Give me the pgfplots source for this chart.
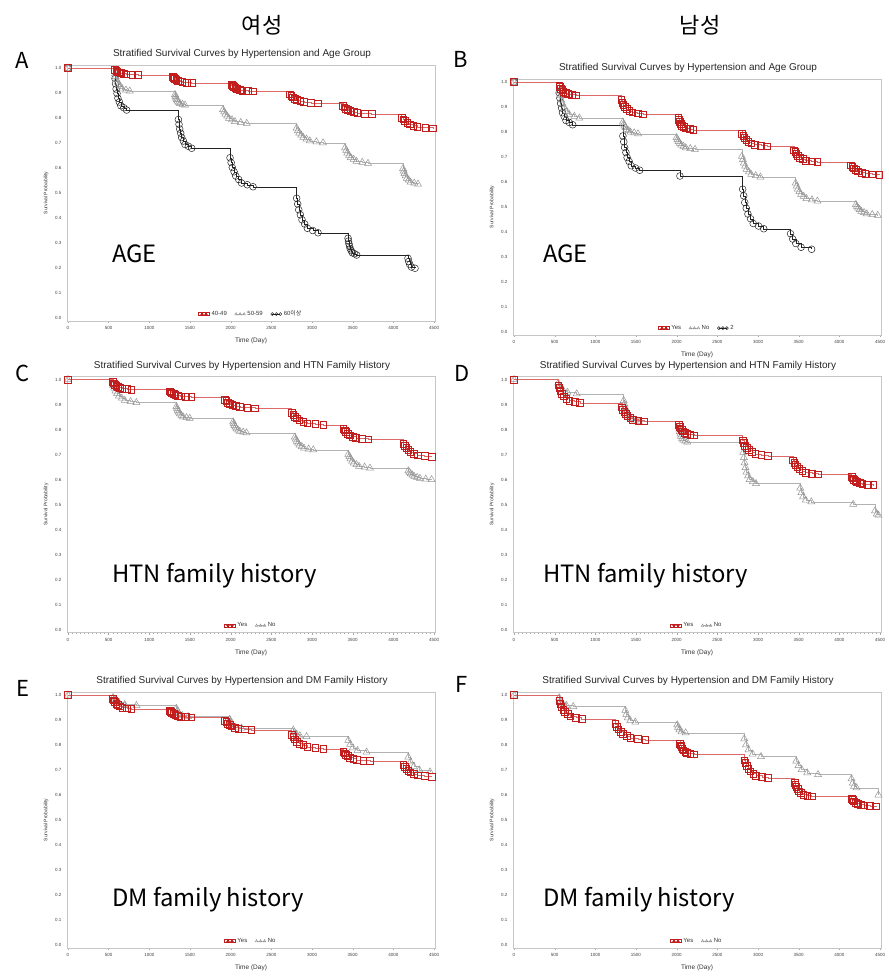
\documentclass[border=0pt]{standalone}
\usepackage{fontspec}
\setmainfont{Liberation Sans}
\newfontfamily\kr{Noto Sans CJK KR}
\usepackage{pgfplots}
\pgfplotsset{compat=1.18}

\definecolor{kmred}{RGB}{195,30,30}
\definecolor{kmredline}{RGB}{220,105,105}
\definecolor{kmgray}{RGB}{150,150,150}
\definecolor{kmgrayline}{RGB}{178,178,178}
\definecolor{kmblack}{RGB}{35,35,35}

\pgfplotsset{
  kmaxis/.style={
    scale only axis, width=368pt, height=256pt,
    xmin=-12, xmax=4512, ymin=-0.012, ymax=1.012,
    clip mode=individual,
    xtick={0,500,1000,1500,2000,2500,3000,3500,4000,4500},
    ytick={0,0.1,0.2,0.3,0.4,0.5,0.6,0.7,0.8,0.9,1},
    minor x tick num=9,
    xtick pos=bottom, ytick pos=left, tick align=outside,
    major tick length=2pt, minor tick length=1.2pt,
    xtick style={draw=gray!70, line width=0.3pt},
    ytick style={draw=none},
    axis line style={draw=gray!45, line width=0.4pt},
    scaled ticks=false,
    /pgf/number format/assume math mode=true,
    /pgf/number format/1000 sep={},
    xticklabel style={font=\fontsize{4.5}{5}\selectfont, text=black!75},
    yticklabel style={font=\fontsize{4.5}{5}\selectfont, text=black!75,
      /pgf/number format/fixed, /pgf/number format/fixed zerofill,
      /pgf/number format/precision=1},
    title style={font=\fontsize{10}{12}\selectfont, at={(0.5,1)}, anchor=south,
      yshift=0pt, xshift=-9pt, inner sep=0pt, text=black!85},
    xlabel={Time (Day)},
    xlabel style={font=\fontsize{6.5}{7}\selectfont, at={(0.5,-0.078)}, anchor=center, text=black!80},
    ylabel={Survival Probability},
    ylabel style={font=\fontsize{5}{6}\selectfont, at={(-0.057,0.5)}, anchor=center, text=black!80},
    legend style={at={(0.5,0.027)}, anchor=center, draw=none, fill=none, inner sep=0pt,
      font=\fontsize{6}{7}\selectfont, text=black!80,
      /tikz/every even column/.append style={column sep=6pt}},
    legend columns=-1, reverse legend,
    legend image code/.code={\draw[mark repeat=1, mark size=1.5pt]
      plot coordinates {(0pt,0pt) (4pt,0pt) (8pt,0pt)};},
  },
  kmred/.style={const plot, color=kmredline, line width=0.45pt, mark=square, mark size=3.3pt,
    mark options={draw=kmred, fill=none, line width=0.6pt}},
  kmgray/.style={const plot, color=kmgrayline, line width=0.45pt, mark=triangle, mark size=4pt,
    mark options={draw=kmgray, fill=none, line width=0.5pt}},
  kmblack/.style={const plot, color=kmblack, line width=0.45pt, mark=o, mark size=3.4pt,
    mark options={draw=kmblack, fill=none, line width=0.5pt}},
}

\begin{document}
\begin{tikzpicture}
\useasboundingbox (0pt,0pt) rectangle (889pt,-978pt);

% ---------------- A : women, age
\begin{axis}[kmaxis, at={(67pt,-321pt)}, anchor=south west,
  title={Stratified Survival Curves by Hypertension and Age Group}]
\addplot[kmblack] coordinates {(0,1)
 (578,.958) (585,.937) (592,.916) (603,.898) (614,.879) (632,.864) (650,.849) (686,.841) (721,.832)
 (1357,.794) (1365,.775) (1373,.756) (1386,.739) (1398,.722) (1419,.708) (1439,.694) (1480,.687) (1521,.679)
 (1992,.641) (2006,.622) (2020,.602) (2042,.585) (2063,.568) (2099,.554) (2134,.540) (2205,.533) (2275,.525)
 (2811,.479) (2824,.456) (2837,.433) (2857,.413) (2877,.393) (2910,.376) (2943,.359) (3009,.350) (3074,.341)
 (3443,.319) (3449,.308) (3454,.297) (3462,.287) (3470,.277) (3483,.269) (3496,.261) (3523,.257) (3549,.252)
 (4180,.239) (4189,.226) (4202,.214) (4223,.204) (4266,.199)};
\addlegendentry{60{\kr 이상}}
\addplot[kmgray] coordinates {(0,1)
 (578,.977) (587,.966) (596,.954) (610,.944) (624,.934) (646,.926) (669,.917) (714,.912) (760,.908)
 (1316,.894) (1322,.887) (1328,.880) (1338,.874) (1347,.868) (1362,.863) (1378,.858) (1408,.855) (1439,.852)
 (1906,.834) (1920,.825) (1935,.816) (1957,.808) (1979,.799) (2016,.793) (2052,.786) (2124,.782) (2197,.779)
 (2811,.760) (2827,.750) (2843,.740) (2868,.732) (2892,.723) (2932,.716) (2973,.709) (3054,.705) (3135,.701)
 (3406,.681) (3420,.671) (3434,.660) (3456,.651) (3477,.642) (3512,.635) (3547,.627) (3618,.623) (3688,.619)
 (4119,.598) (4128,.588) (4137,.578) (4151,.569) (4165,.559) (4188,.552) (4211,.544) (4257,.540) (4303,.536)};
\addlegendentry{50-59}
\addplot[kmred] coordinates {(0,1)
 (578,.993) (592,.990) (606,.986) (627,.983) (648,.980) (684,.978) (719,.975) (790,.974) (860,.972)
 (1291,.964) (1302,.960) (1314,.957) (1332,.953) (1349,.950) (1378,.947) (1406,.944) (1464,.942) (1521,.941)
 (2012,.933) (2025,.928) (2038,.924) (2058,.920) (2078,.917) (2111,.913) (2144,.910) (2210,.908) (2275,.907)
 (2729,.895) (2746,.889) (2764,.883) (2790,.877) (2815,.872) (2858,.868) (2902,.864) (2988,.861) (3074,.859)
 (3381,.848) (3398,.843) (3416,.838) (3442,.833) (3469,.828) (3514,.824) (3558,.820) (3646,.818) (3734,.816)
 (4102,.802) (4122,.795) (4141,.788) (4170,.781) (4199,.775) (4247,.770) (4295,.765) (4392,.762) (4488,.759)};
\addlegendentry{40-49}
\end{axis}

% ---------------- B : men, age
\begin{axis}[kmaxis, at={(513pt,-335pt)}, anchor=south west,
  title={Stratified Survival Curves by Hypertension and Age Group}]
\addplot[kmblack] coordinates {(0,1)
 (556,.957) (564,.936) (573,.915) (585,.896) (597,.877) (618,.862) (639,.846) (680,.838) (721,.829)
 (1339,.784) (1350,.761) (1360,.738) (1376,.718) (1391,.698) (1416,.682) (1442,.665) (1494,.656) (1545,.647)
 (2040,.624)
 (2811,.571) (2824,.545) (2837,.518) (2856,.495) (2876,.472) (2908,.453) (2941,.434) (3006,.424) (3070,.413)
 (3400,.393) (3426,.372) (3465,.354) (3530,.339) (3659,.331)};
\addlegendentry{2}
\addplot[kmgray] coordinates {(0,1)
 (556,.964) (568,.946) (581,.928) (600,.912) (618,.896) (649,.883) (680,.870) (742,.863) (804,.856)
 (1339,.840) (1348,.832) (1358,.824) (1372,.818) (1386,.811) (1409,.806) (1432,.800) (1478,.797) (1525,.793)
 (1999,.778) (2010,.770) (2022,.762) (2039,.755) (2056,.748) (2084,.743) (2112,.737) (2168,.734) (2225,.731)
 (2802,.703) (2814,.690) (2825,.676) (2842,.664) (2859,.651) (2888,.641) (2916,.631) (2972,.626) (3029,.620)
 (3462,.596) (3476,.584) (3489,.572) (3509,.562) (3529,.551) (3562,.543) (3596,.534) (3663,.529) (3730,.524)
 (4203,.510) (4216,.503) (4230,.496) (4250,.490) (4270,.483) (4304,.478) (4337,.473) (4404,.470) (4471,.467)};
\addlegendentry{No}
\addplot[kmred] coordinates {(0,1)
 (556,.987) (566,.980) (577,.974) (592,.968) (608,.962) (634,.957) (659,.952) (710,.950) (762,.947)
 (1319,.928) (1332,.918) (1346,.909) (1366,.900) (1386,.892) (1420,.885) (1453,.879) (1520,.875) (1587,.871)
 (2019,.856) (2028,.848) (2038,.840) (2052,.833) (2066,.826) (2089,.820) (2112,.815) (2158,.812) (2205,.809)
 (2802,.793) (2818,.784) (2833,.776) (2856,.768) (2879,.761) (2918,.755) (2957,.750) (3034,.746) (3111,.743)
 (3441,.727) (3456,.720) (3470,.712) (3492,.705) (3513,.698) (3550,.692) (3586,.686) (3658,.683) (3730,.680)
 (4142,.667) (4160,.661) (4177,.655) (4204,.649) (4230,.643) (4274,.638) (4317,.634) (4404,.631) (4492,.629)};
\addlegendentry{Yes}
\end{axis}

% ---------------- C : women, HTN family history
\begin{axis}[kmaxis, at={(67pt,-632.5pt)}, anchor=south west,
  title={Stratified Survival Curves by Hypertension and HTN Family History}]
\addplot[kmgray] coordinates {(0,1)
 (554,.977) (568,.966) (583,.954) (604,.944) (626,.934) (662,.926) (698,.917) (770,.912) (841,.908)
 (1333,.892) (1341,.885) (1349,.877) (1362,.870) (1374,.863) (1394,.857) (1415,.851) (1456,.848) (1497,.845)
 (2030,.831) (2038,.824) (2047,.816) (2059,.810) (2071,.803) (2092,.798) (2113,.793) (2154,.790) (2195,.787)
 (2789,.770) (2800,.762) (2812,.753) (2829,.746) (2846,.738) (2874,.732) (2902,.726) (2958,.722) (3015,.719)
 (3446,.701) (3460,.692) (3473,.683) (3493,.674) (3513,.666) (3546,.660) (3579,.653) (3646,.650) (3712,.646)
 (4184,.635) (4198,.629) (4213,.623) (4234,.618) (4256,.613) (4292,.609) (4327,.605) (4398,.602) (4470,.600)};
\addlegendentry{No}
\addplot[kmred] coordinates {(0,1)
 (554,.990) (566,.985) (577,.980) (594,.976) (610,.971) (638,.968) (667,.964) (723,.962) (779,.960)
 (1251,.953) (1264,.949) (1278,.945) (1298,.942) (1318,.938) (1352,.936) (1385,.933) (1452,.932) (1518,.930)
 (1928,.919) (1946,.914) (1965,.908) (1992,.903) (2020,.898) (2066,.894) (2113,.890) (2205,.888) (2297,.885)
 (2748,.868) (2768,.860) (2787,.852) (2816,.845) (2846,.837) (2894,.831) (2943,.825) (3040,.822) (3138,.818)
 (3384,.804) (3400,.797) (3415,.790) (3438,.784) (3461,.777) (3500,.772) (3538,.767) (3615,.764) (3692,.761)
 (4122,.743) (4140,.735) (4157,.726) (4183,.718) (4209,.710) (4253,.704) (4297,.697) (4384,.694) (4471,.690)};
\addlegendentry{Yes}
\end{axis}

% ---------------- D : men, HTN family history
\begin{axis}[kmaxis, at={(513pt,-632.5pt)}, anchor=south west,
  title={Stratified Survival Curves by Hypertension and HTN Family History}]
\addplot[kmgray] coordinates {(0,1)
 (544,.986) (567,.972) (601,.959) (658,.949) (771,.943)
 (1348,.916) (1358,.902) (1367,.888) (1380,.876) (1394,.864) (1418,.854) (1441,.844) (1487,.838) (1533,.833)
 (2028,.812) (2033,.802) (2038,.792) (2046,.782) (2054,.773) (2067,.765) (2080,.758) (2106,.754) (2131,.750)
 (2819,.709) (2827,.688) (2835,.667) (2846,.648) (2858,.630) (2878,.615) (2897,.600) (2936,.592) (2975,.584)
 (3519,.566) (3533,.548) (3553,.531) (3587,.518) (3655,.511)
 (4170,.501) (4438,.475) (4460,.462) (4480,.458)};
\addlegendentry{No}
\addplot[kmred] coordinates {(0,1)
 (544,.977) (558,.966) (571,.954) (591,.944) (611,.933) (644,.924) (678,.916) (745,.912) (812,.907)
 (1327,.889) (1340,.880) (1354,.870) (1374,.862) (1394,.854) (1428,.847) (1461,.840) (1528,.836) (1595,.833)
 (2028,.819) (2038,.812) (2047,.805) (2060,.799) (2074,.793) (2098,.788) (2121,.783) (2167,.780) (2213,.777)
 (2810,.757) (2826,.746) (2841,.736) (2864,.727) (2888,.718) (2926,.710) (2965,.703) (3042,.699) (3120,.695)
 (3429,.677) (3444,.668) (3460,.658) (3483,.650) (3506,.642) (3545,.635) (3584,.628) (3661,.624) (3738,.621)
 (4150,.610) (4164,.605) (4177,.600) (4197,.595) (4217,.590) (4250,.586) (4284,.582) (4351,.580) (4418,.578)};
\addlegendentry{Yes}
\end{axis}

% ---------------- E : women, DM family history
\begin{axis}[kmaxis, at={(67pt,-948pt)}, anchor=south west,
  title={Stratified Survival Curves by Hypertension and DM Family History}]
\addplot[kmgray] coordinates {(0,1)
 (554,.990) (583,.979) (626,.970) (698,.962) (841,.958)
 (1333,.947) (1347,.936) (1369,.926) (1405,.918) (1477,.914)
 (1989,.903) (2003,.891) (2025,.881) (2061,.872) (2133,.868)
 (2769,.860) (2785,.851) (2810,.844) (2851,.837) (2933,.834)
 (3446,.819) (3469,.803) (3502,.789) (3559,.778) (3671,.772)
 (4184,.752) (4211,.733) (4251,.715) (4318,.701) (4451,.693)};
\addlegendentry{No}
\addplot[kmred] coordinates {(0,1)
 (554,.986) (566,.979) (577,.972) (594,.966) (610,.960) (638,.955) (667,.950) (723,.947) (779,.944)
 (1251,.936) (1264,.932) (1278,.928) (1298,.924) (1318,.920) (1352,.917) (1385,.914) (1452,.912) (1518,.911)
 (1928,.898) (1944,.892) (1961,.886) (1986,.880) (2010,.875) (2051,.870) (2092,.866) (2174,.863) (2256,.861)
 (2748,.842) (2768,.832) (2787,.823) (2816,.814) (2846,.806) (2894,.800) (2943,.793) (3040,.789) (3138,.785)
 (3384,.773) (3400,.767) (3417,.761) (3442,.756) (3466,.750) (3507,.746) (3548,.741) (3630,.738) (3712,.736)
 (4122,.720) (4140,.712) (4157,.705) (4183,.698) (4209,.691) (4253,.685) (4297,.679) (4384,.676) (4471,.673)};
\addlegendentry{Yes}
\end{axis}

% ---------------- F : men, DM family history
\begin{axis}[kmaxis, at={(513pt,-948pt)}, anchor=south west,
  title={Stratified Survival Curves by Hypertension and DM Family History}]
\addplot[kmgray] coordinates {(0,1)
 (556,.989) (573,.977) (599,.967) (643,.959) (729,.954)
 (1368,.939) (1380,.923) (1399,.909) (1430,.898) (1492,.892)
 (2007,.881) (2017,.871) (2033,.861) (2059,.853) (2110,.849)
 (2831,.825) (2852,.801) (2883,.781) (2934,.764) (3037,.754)
 (3470,.736) (3497,.718) (3537,.702) (3604,.689) (3738,.682)
 (4150,.665) (4165,.648) (4180,.635) (4212,.629) (4480,.600)};
\addlegendentry{No}
\addplot[kmred] coordinates {(0,1)
 (556,.976) (570,.964) (584,.953) (604,.942) (625,.932) (660,.924) (694,.915) (763,.910) (832,.905)
 (1245,.884) (1264,.874) (1282,.863) (1310,.854) (1338,.844) (1384,.836) (1430,.829) (1522,.824) (1615,.820)
 (2040,.806) (2048,.799) (2057,.792) (2070,.786) (2083,.779) (2105,.774) (2127,.769) (2170,.766) (2213,.763)
 (2831,.739) (2846,.728) (2860,.716) (2882,.706) (2903,.695) (2940,.686) (2976,.678) (3048,.673) (3120,.668)
 (3449,.650) (3460,.641) (3470,.632) (3486,.624) (3502,.615) (3528,.608) (3555,.602) (3608,.598) (3660,.595)
 (4150,.585) (4165,.580) (4180,.575) (4202,.570) (4225,.566) (4262,.562) (4300,.559) (4375,.557) (4450,.555)};
\addlegendentry{Yes}
\end{axis}

% ---------------- headers, panel letters, big labels
\node[font=\kr\fontsize{22}{22}\selectfont] at (262pt,-25pt) {여성};
\node[font=\kr\fontsize{22}{22}\selectfont] at (700pt,-25pt) {남성};
\begin{scope}[every node/.style={font=\kr\fontsize{22}{22}\selectfont}]
\node at (22.5pt,-60.5pt) {A};
\node at (461pt,-59pt) {B};
\node at (22.5pt,-373pt) {C};
\node at (462pt,-373pt) {D};
\node at (22.5pt,-688pt) {E};
\node at (462pt,-684pt) {F};
\end{scope}
\begin{scope}[every node/.style={font=\kr\fontsize{23.8}{24}\selectfont, anchor=base west, inner sep=0pt}]
\node at (112pt,-262pt) {AGE};
\node at (543pt,-262pt) {AGE};
\node at (112pt,-582pt) {HTN family history};
\node at (543pt,-582pt) {HTN family history};
\node at (112pt,-906pt) {DM family history};
\node at (543pt,-906pt) {DM family history};
\end{scope}
\end{tikzpicture}
\end{document}
